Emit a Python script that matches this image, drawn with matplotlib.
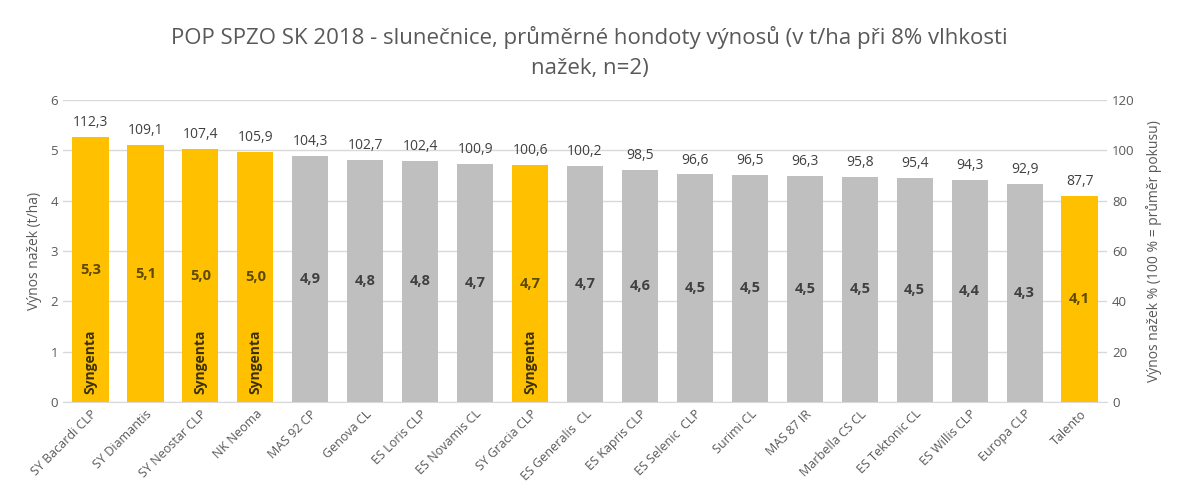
import matplotlib
matplotlib.use("Agg")
import matplotlib.pyplot as plt

categories = ["SY Bacardi CLP", "SY Diamantis", "SY Neostar CLP", "NK Neoma", "MAS 92 CP",
              "Genova CL", "ES Loris CLP", "ES Novamis CL", "SY Gracia CLP", "ES Generalis  CL",
              "ES Kapris CLP", "ES Selenic  CLP", "Surimi CL", "MAS 87 IR", "Marbella CS CL",
              "ES Tektonic CL", "ES Willis CLP", "Europa CLP", "Talento"]
yield_t_ha = [5.26, 5.10, 5.02, 4.96, 4.88, 4.80, 4.79, 4.72, 4.70, 4.68,
              4.61, 4.52, 4.51, 4.50, 4.48, 4.46, 4.41, 4.34, 4.10]
yield_pct = [112.3, 109.1, 107.4, 105.9, 104.3, 102.7, 102.4, 100.9, 100.6, 100.2,
             98.5, 96.6, 96.5, 96.3, 95.8, 95.4, 94.3, 92.9, 87.7]
highlight = [True, True, True, True, False, False, False, False, True, False,
             False, False, False, False, False, False, False, False, True]
syngenta = [True, False, True, True, False, False, False, False, True, False,
            False, False, False, False, False, False, False, False, False]

plt.rcParams['font.family'] = ['Open Sans', 'DejaVu Sans']

fig = plt.figure(figsize=(11.79, 5.0), dpi=100)
ax = fig.add_axes([0.0534, 0.196, 0.8856, 0.604])
ax2 = ax.twinx()

yellow = "#FFC000"
gray = "#BFBFBF"
text_gray = "#595959"

x = list(range(len(categories)))
colors = [yellow if h else gray for h in highlight]
bars = ax.bar(x, yield_t_ha, width=0.66, color=colors, zorder=3)

ax.set_ylim(0, 6)
ax.set_yticks(range(0, 7))
ax.set_xlim(-0.5, len(categories) - 0.5)
ax2.set_ylim(0, 120)
ax2.set_yticks(range(0, 121, 20))

ax.yaxis.grid(True, color="#D9D9D9", linewidth=1, zorder=0)
ax.set_axisbelow(True)
for a in (ax, ax2):
    for s in a.spines.values():
        s.set_visible(False)
    a.tick_params(length=0, labelsize=9.5, labelcolor=text_gray)
ax.spines['bottom'].set_visible(True)
ax.spines['bottom'].set_color("#D9D9D9")

ax.set_xticks(x)
ax.set_xticklabels(categories, rotation=45, ha='right', rotation_mode='anchor', fontsize=9)
ax.tick_params(axis='x', pad=4)

ax.set_ylabel("Výnos nažek (t/ha)", fontsize=10, color=text_gray, labelpad=6)
ax2.set_ylabel("Výnos nažek % (100 % = průměr pokusu)", fontsize=10, color=text_gray, labelpad=8)

for i, (v, p, h, s) in enumerate(zip(yield_t_ha, yield_pct, highlight, syngenta)):
    ax.annotate(f"{p:.1f}".replace(".", ","), (i, v), xytext=(0, 5), textcoords="offset points",
                ha='center', va='bottom', fontsize=10, color="#404040")
    ax.text(i, v / 2, f"{v:.1f}".replace(".", ","), ha='center', va='center', fontsize=10.5,
            fontweight='bold', color="#5C4A00" if h else "#404040", zorder=4)
    if s:
        ax.text(i, 0.15, "Syngenta", rotation=90, ha='center', va='bottom', fontsize=10,
                fontweight='bold', color="#3A3000", zorder=4)

fig.text(0.5, 0.925, "POP SPZO SK 2018 - slunečnice, průměrné hondoty výnosů (v t/ha při 8% vlhkosti",
         ha='center', va='center', fontsize=16, color=text_gray)
fig.text(0.5, 0.863, "nažek, n=2)", ha='center', va='center', fontsize=16, color=text_gray)

fig.savefig("out.png", dpi=100)
